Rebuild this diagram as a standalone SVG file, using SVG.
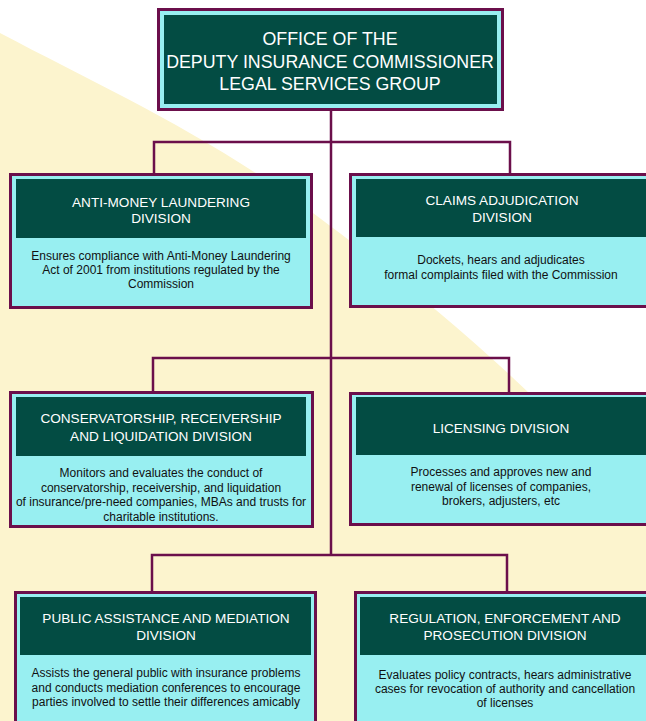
<svg xmlns="http://www.w3.org/2000/svg" width="646" height="721" viewBox="0 0 646 721">
<style>
.box{fill:#98EFF1;stroke:#6B0F4B;stroke-width:3}
.hdr{fill:#034C43}
.t{font-family:"Liberation Sans",Arial,sans-serif;fill:#FFFFFF;font-size:13.6px;text-anchor:middle}
.tt{font-family:"Liberation Sans",Arial,sans-serif;fill:#FFFFFF;font-size:17.8px;text-anchor:middle}
.b{font-family:"Liberation Sans",Arial,sans-serif;fill:#111111;font-size:12px;text-anchor:middle}
.con{fill:none;stroke:#6B0F4B;stroke-width:2.5}
</style>
<rect width="646" height="721" fill="#FFFFFF"/>
<path d="M0,33 C104,88 209,135 313,213 C430,300 560,410 646,520 L646,721 L0,721 Z" fill="#FCF4CE"/>
<g id="connectors">
<path class="con" d="M331,111 V555"/>
<path class="con" d="M154,174 V142 H510 V174"/>
<path class="con" d="M153,392 V358 H509 V393"/>
<path class="con" d="M152,592 V555 H507 V592"/>
</g>
<g id="top">
<rect class="box" x="158.5" y="9.5" width="344" height="100"/>
<rect class="hdr" x="164" y="15" width="333" height="89"/>
<text class="tt" x="330" y="45">OFFICE OF THE</text>
<text class="tt" x="330" y="67.5">DEPUTY INSURANCE COMMISSIONER</text>
<text class="tt" x="330" y="90">LEGAL SERVICES GROUP</text>
</g>
<g id="aml">
<rect class="box" x="10.5" y="174.5" width="301" height="133"/>
<rect class="hdr" x="16" y="179" width="290" height="59"/>
<text class="t" x="161" y="207">ANTI-MONEY LAUNDERING</text>
<text class="t" x="161" y="223">DIVISION</text>
<text class="b" x="161" y="260">Ensures compliance with Anti-Money Laundering</text>
<text class="b" x="161" y="274">Act of 2001 from institutions regulated by the</text>
<text class="b" x="161" y="288">Commission</text>
</g>
<g id="claims">
<rect class="box" x="350.5" y="174.5" width="310" height="132"/>
<rect class="hdr" x="356" y="179" width="300" height="58"/>
<text class="t" x="502" y="205">CLAIMS ADJUDICATION</text>
<text class="t" x="502" y="222">DIVISION</text>
<text class="b" x="501" y="264">Dockets, hears and adjudicates</text>
<text class="b" x="501" y="279">formal complaints filed with the Commission</text>
</g>
<g id="crl">
<rect class="box" x="10.5" y="392.5" width="302" height="134"/>
<rect class="hdr" x="16" y="397" width="290" height="59"/>
<text class="t" x="161" y="423">CONSERVATORSHIP, RECEIVERSHIP</text>
<text class="t" x="161" y="441">AND LIQUIDATION DIVISION</text>
<text class="b" x="161" y="477">Monitors and evaluates the conduct of</text>
<text class="b" x="161" y="491.5">conservatorship, receivership, and liquidation</text>
<text class="b" x="161" y="506">of insurance/pre-need companies, MBAs and trusts for</text>
<text class="b" x="161" y="520.5">charitable institutions.</text>
</g>
<g id="licensing">
<rect class="box" x="350.5" y="393.5" width="310" height="131"/>
<rect class="hdr" x="356" y="397" width="300" height="58"/>
<text class="t" x="501" y="433">LICENSING DIVISION</text>
<text class="b" x="501" y="476">Processes and approves new and</text>
<text class="b" x="501" y="491">renewal of licenses of companies,</text>
<text class="b" x="501" y="505">brokers, adjusters, etc</text>
</g>
<g id="pam">
<rect class="box" x="15.5" y="592.5" width="300" height="150"/>
<rect class="hdr" x="20" y="597" width="291" height="58"/>
<text class="t" x="166" y="623">PUBLIC ASSISTANCE AND MEDIATION</text>
<text class="t" x="166" y="640">DIVISION</text>
<text class="b" x="166" y="677">Assists the general public with insurance problems</text>
<text class="b" x="166" y="691.5">and conducts mediation conferences to encourage</text>
<text class="b" x="166" y="706">parties involved to settle their differences amicably</text>
</g>
<g id="rep">
<rect class="box" x="355.5" y="592.5" width="310" height="150"/>
<rect class="hdr" x="360" y="597" width="300" height="58"/>
<text class="t" x="505" y="623">REGULATION, ENFORCEMENT AND</text>
<text class="t" x="505" y="640">PROSECUTION DIVISION</text>
<text class="b" x="505" y="679">Evaluates policy contracts, hears administrative</text>
<text class="b" x="505" y="693">cases for revocation of authority and cancellation</text>
<text class="b" x="505" y="707">of licenses</text>
</g>
</svg>
